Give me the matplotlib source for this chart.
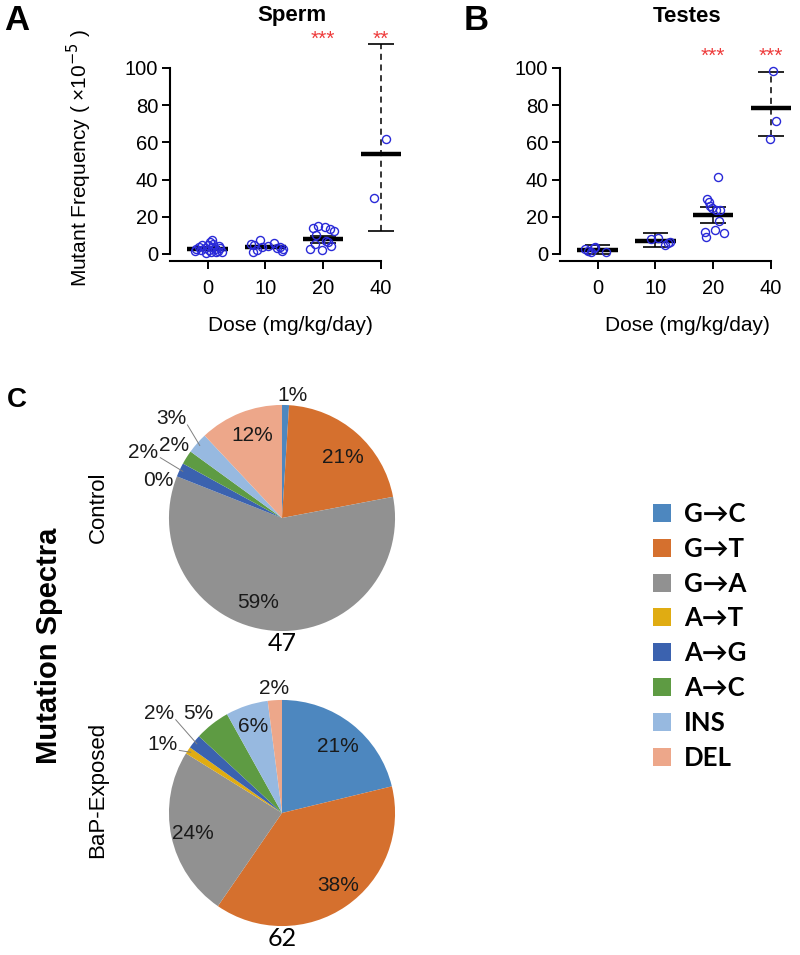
import matplotlib
matplotlib.use('Agg')
import matplotlib.pyplot as plt
import numpy as np
from matplotlib.font_manager import FontProperties

plt.rcParams['font.family'] = ['Liberation Sans', 'DejaVu Sans']

# ---------------- data ----------------
doses = ['0', '10', '20', '40']

sperm_values = [
    [7.5, 6.2, 5.5, 5.0, 4.6, 4.2, 3.8, 3.5, 3.2, 3.0, 2.8, 2.5, 2.3, 2.0, 1.8, 1.5, 1.2, 1.0, 0.8, 0.5],
    [7.3, 5.8, 5.2, 4.8, 4.3, 4.0, 3.5, 3.0, 2.5, 2.0, 1.6, 1.2],
    [15.2, 14.6, 14.0, 13.3, 12.6, 10.2, 7.0, 6.2, 5.2, 4.5, 2.9, 2.2],
    [62.0, 30.0],
]
sperm_jitter = [
    [0.07, 0.05, 0.10, -0.10, 0.00, 0.20, -0.15, 0.08, -0.05, 0.22, -0.20, 0.12, 0.02, -0.12, 0.18, -0.22, 0.06, 0.25, 0.14, -0.02],
    [-0.10, 0.15, -0.25, -0.20, 0.05, 0.25, -0.05, 0.20, 0.30, -0.15, 0.28, -0.22],
    [-0.09, 0.03, -0.17, 0.12, 0.18, -0.13, 0.05, 0.08, -0.15, 0.14, -0.23, -0.02],
    [0.09, -0.12],
]
sperm_mean = [2.8, 3.6, 7.9, 54.0]
sperm_lo = [2.1, 3.0, 6.1, 12.4]
sperm_hi = [3.5, 4.3, 9.9, 113.0]
sperm_stars = ['', '', '***', '**']

testes_values = [
    [2.5, 1.8, 0.8, 3.0, 3.6, 1.1],
    [8.0, 8.5, 5.0, 6.0, 6.5],
    [41.2, 29.4, 28.1, 26.0, 24.5, 23.6, 23.8, 17.7, 13.1, 12.0, 11.5, 9.0],
    [98.5, 71.7, 61.7],
]
testes_jitter = [
    [-0.22, -0.16, -0.12, -0.07, -0.04, 0.15],
    [-0.08, 0.05, 0.16, 0.22, 0.25],
    [0.09, -0.11, -0.08, -0.06, -0.02, 0.05, 0.12, 0.10, 0.03, -0.14, 0.18, -0.12],
    [0.03, 0.08, -0.02],
]
testes_mean = [2.2, 6.8, 20.8, 78.7]
testes_lo = [0.0, 3.9, 16.8, 63.6]
testes_hi = [4.8, 11.5, 25.3, 97.8]
testes_stars = ['', '', '***', '***']

mut_types = ['G\u2192C', 'G\u2192T', 'G\u2192A', 'A\u2192T', 'A\u2192G', 'A\u2192C', 'INS', 'DEL']
mut_colors = ['#4D87BF', '#D5702E', '#919191', '#E0AC12', '#3B62AF', '#5E9B43', '#97B9E0', '#EDA78A']
control_pct = [1, 21, 59, 0, 2, 2, 3, 12]
bap_pct = [21, 38, 24, 1, 2, 5, 6, 2]
control_n = 47
bap_n = 62

# ---------------- figure ----------------
fig = plt.figure(figsize=(8.0, 9.55), dpi=100)

PT_COLOR = '#2A2AD8'
STAR_COLOR = '#EE3B3B'


def draw_panel(ax, values, jitter, means, lo, hi, stars, star_y):
    for i in range(len(doses)):
        dashed = (i == len(doses) - 1)
        ax.vlines(i, lo[i], hi[i], colors='k', lw=1.1,
                  linestyles=(0, (4, 3)) if dashed else 'solid', zorder=2)
        ax.hlines([lo[i], hi[i]], i - 0.22, i + 0.22, colors='k', lw=1.2, zorder=2)
        ax.hlines(means[i], i - 0.35, i + 0.35, colors='k', lw=3.2, zorder=3)
        ax.plot(i + np.asarray(jitter[i]), values[i], 'o', mfc='none', mec=PT_COLOR,
                ms=5.8, mew=1.0, zorder=4, clip_on=False)
        if stars[i]:
            ax.text(i, star_y, stars[i], ha='center', va='center', color=STAR_COLOR,
                    fontsize=15)
    ax.set_xlim(-0.65, 3.35)
    ax.set_ylim(-4, 120)
    for s in ('top', 'right'):
        ax.spines[s].set_visible(False)
    ax.spines['left'].set_bounds(0, 100)
    ax.spines['bottom'].set_bounds(-0.65, 3)
    for s in ('left', 'bottom'):
        ax.spines[s].set_linewidth(1.5)
    ax.set_xticks(range(len(doses)))
    ax.set_xticklabels(doses)
    ax.set_yticks([0, 20, 40, 60, 80, 100])
    ax.tick_params(axis='both', direction='out', length=5.5, width=1.4, labelsize=14.5)
    ax.tick_params(axis='x', pad=7)
    ax.tick_params(axis='y', pad=3)
    ax.set_xlabel('Dose (mg/kg/day)', fontsize=15)
    ax.patch.set_visible(False)


axA = fig.add_axes([0.2125, 0.7263, 0.289, 0.2415])
draw_panel(axA, sperm_values, sperm_jitter, sperm_mean, sperm_lo, sperm_hi, sperm_stars, 115.5)
axA.set_ylabel('Mutant Frequency ( \u00d710$^{-5}$ )', fontsize=15)
axA.yaxis.set_label_coords(-0.33, 0.45)
axA.xaxis.set_label_coords(0.52, -0.235)

axB = fig.add_axes([0.70, 0.7263, 0.289, 0.2415])
draw_panel(axB, testes_values, testes_jitter, testes_mean, testes_lo, testes_hi, testes_stars, 106.5)
axB.xaxis.set_label_coords(0.55, -0.235)

fig.text(292 / 800, 1 - 16 / 955, 'Sperm', ha='center', va='center', fontsize=16, weight='bold')
fig.text(687 / 800, 1 - 16 / 955, 'Testes', ha='center', va='center', fontsize=16, weight='bold')
fig.text(17 / 800, 1 - 20 / 955, 'A', ha='center', va='center', fontsize=25, weight='bold')
fig.text(476 / 800, 1 - 20 / 955, 'B', ha='center', va='center', fontsize=25, weight='bold')

# ---------------- pies ----------------
LBL_FONT = ['Liberation Sans Narrow', 'Liberation Sans', 'DejaVu Sans']
N_FONT = ['Lato', 'DejaVu Sans']


def draw_pie(ax, pct, n, radii, shifts, leaders):
    wedges, _ = ax.pie(pct, colors=mut_colors, startangle=90, counterclock=False,
                       radius=1.0, wedgeprops=dict(linewidth=0))
    for w, v, r, sh, ld in zip(wedges, pct, radii, shifts, leaders):
        mid = np.deg2rad((w.theta1 + w.theta2) / 2.0 + sh)
        midw = np.deg2rad((w.theta1 + w.theta2) / 2.0)
        x, y = r * np.cos(mid), r * np.sin(mid)
        ax.text(x, y, f'{v}%', ha='center', va='center', fontsize=15,
                family=LBL_FONT, color='#1a1a1a')
        if ld:
            x0, y0 = (r - 0.06) * np.cos(mid) + 0.1, (r - 0.06) * np.sin(mid) - 0.02
            x1, y1 = 0.97 * np.cos(midw), 0.97 * np.sin(midw)
            ax.plot([x0, x1], [y0, y1], color='#7f7f7f', lw=0.7)
    ax.text(0, -1.11, str(n), ha='center', va='center', fontsize=18, family=N_FONT)
    ax.set_xlim(-1.15, 1.15)
    ax.set_ylim(-1.15, 1.15)
    ax.set_aspect('equal')
    ax.axis('off')
    return wedges


axC1 = fig.add_axes([152 / 800, 1 - 648 / 955, 260 / 800, 260 / 955])
wedges = draw_pie(axC1, control_pct, control_n,
                  radii=[1.09, 0.76, 0.78, 1.14, 1.36, 1.15, 1.32, 0.78],
                  shifts=[-3.3, -3.6, -10.2, 4.6, 0, -1.3, -0.6, -1.6],
                  leaders=[False, False, False, False, True, False, True, False])

axC2 = fig.add_axes([152 / 800, 1 - 943 / 955, 260 / 800, 260 / 955])
draw_pie(axC2, bap_pct, bap_n,
         radii=[0.77, 0.81, 0.81, 1.22, 1.40, 1.15, 0.81, 1.10],
         shifts=[-2, 3.5, 1, 4, 0, 2, 0, 0],
         leaders=[False, False, False, True, True, False, False, False])

fig.text(17 / 800, 1 - 400 / 955, 'C', ha='center', va='center', fontsize=20, weight='bold')
fig.text(49 / 800, 1 - 646 / 955, 'Mutation Spectra', rotation=90, ha='center', va='center',
         fontsize=21, weight='bold')
fig.text(98 / 800, 1 - 507 / 955, 'Control', rotation=90, ha='center', va='center', fontsize=16)
fig.text(98 / 800, 1 - 790 / 955, 'BaP-Exposed', rotation=90, ha='center', va='center', fontsize=16)

leg = fig.legend(wedges, mut_types, loc='upper left', bbox_to_anchor=(653 / 800, 1 - 502 / 955),
                 frameon=False, handlelength=0.7, handleheight=0.7, handletextpad=0.5,
                 labelspacing=0.42, borderpad=0, borderaxespad=0,
                 prop=FontProperties(family=['Lato', 'DejaVu Sans'], weight='bold', size=18.5))

fig.savefig('out.png', dpi=100)
